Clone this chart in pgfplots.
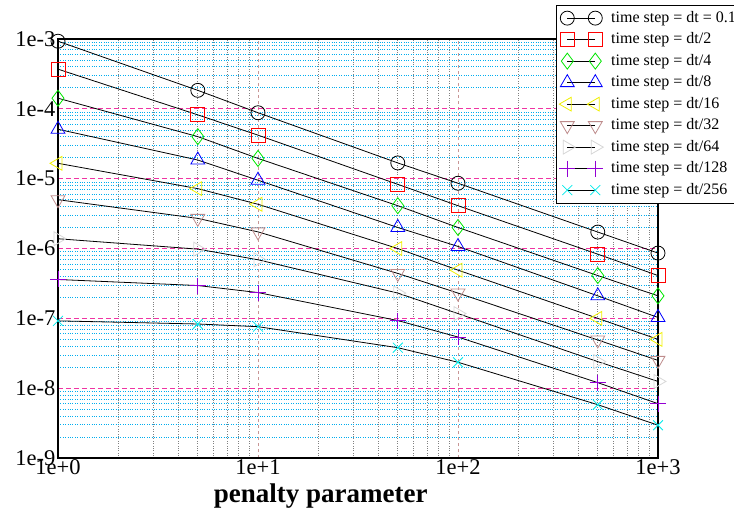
\documentclass[border=0pt]{standalone}
\usepackage{fontspec}
\setmainfont{Liberation Serif}
\usepackage{pgfplots}
\pgfplotsset{compat=1.18}

\definecolor{gridbrown}{RGB}{200,150,150}
\definecolor{mkgreen}{RGB}{0,230,0}
\definecolor{mkyellow}{RGB}{240,240,0}
\definecolor{mkbrown}{RGB}{190,140,140}
\definecolor{mkgray}{RGB}{215,215,215}
\definecolor{mkpurple}{RGB}{148,0,211}
\definecolor{mkcyan}{RGB}{0,235,235}

\pgfplotsset{
  % black connecting line, coloured marker; second argument rotates the marker
  errline/.style 2 args={black, line width=0.8pt, mark size=7pt,
    mark options={solid, line width=0.8pt, draw=#1, rotate=#2}},
}

\begin{document}
\begin{tikzpicture}
\begin{loglogaxis}[
  scale only axis,
  width=600pt, height=419pt,
  xmin=1, xmax=1000, ymin=1e-9, ymax=1e-3,
  clip=false,
  xtick={1,10,100,1000},
  xticklabels={1e+0,1e+1,1e+2,1e+3},
  ytick={1e-9,1e-8,1e-7,1e-6,1e-5,1e-4,1e-3},
  yticklabels={1e-9,1e-8,1e-7,1e-6,1e-5,1e-4,1e-3},
  minor xtick={2,3,4,5,6,7,8,9,20,30,40,50,60,70,80,90,200,300,400,500,600,700,800,900},
  minor ytick={2e-9,3e-9,4e-9,5e-9,6e-9,7e-9,8e-9,9e-9,
               2e-8,3e-8,4e-8,5e-8,6e-8,7e-8,8e-8,9e-8,
               2e-7,3e-7,4e-7,5e-7,6e-7,7e-7,8e-7,9e-7,
               2e-6,3e-6,4e-6,5e-6,6e-6,7e-6,8e-6,9e-6,
               2e-5,3e-5,4e-5,5e-5,6e-5,7e-5,8e-5,9e-5,
               2e-4,3e-4,4e-4,5e-4,6e-4,7e-4,8e-4,9e-4},
  major tick length=0pt, minor tick length=0pt,
  grid=both,
  major x grid style={gridbrown, dashed, line width=0.8pt},
  major y grid style={magenta!80, dash pattern=on 5pt off 3pt, line width=1pt},
  minor x grid style={gray, dotted, line width=0.6pt},
  minor y grid style={cyan, dotted, line width=0.7pt},
  axis line style={black, line width=1.4pt},
  tick label style={font=\fontsize{22.5}{22.5}\selectfont},
  xticklabel style={yshift=2pt},
  yticklabel style={xshift=1pt},
  xlabel={penalty parameter},
  xlabel style={font=\fontsize{27}{27}\selectfont\bfseries,
    at={(axis description cs:0.438,0)}, anchor=north, inner sep=0pt, yshift=-26pt},
  legend cell align=left,
  legend style={at={(rel axis cs:0.83,1.081)}, anchor=north west,
    font=\fontsize{16}{18}\selectfont, draw=black, line width=0.6pt,
    inner xsep=3pt, inner ysep=2pt, row sep=0pt,
    nodes={inner sep=1.5pt, text height=13.5pt, text depth=5pt}},
  legend image code/.code={%
    \draw[#1] plot coordinates {(2pt,0pt) (30pt,0pt)};
    \path (-3pt,0pt) (44pt,0pt);},
]
% time step = dt = 0.1
\addplot[errline={black}{0}, mark=o] coordinates {
  (1,9.3e-4) (5,1.84e-4) (10,8.8e-5) (50,1.68e-5) (100,8.6e-6) (500,1.72e-6) (1000,8.6e-7)};
\addlegendentry{time step = dt = 0.1}
% dt/2
\addplot[errline={red}{0}, mark=square] coordinates {
  (1,3.7e-4) (5,8.2e-5) (10,4.2e-5) (50,8.3e-6) (100,4.1e-6) (500,8.3e-7) (1000,4.1e-7)};
\addlegendentry{time step = dt/2}
% dt/4
\addplot[errline={mkgreen}{0}, mark=diamond, mark size=8pt] coordinates {
  (1,1.42e-4) (5,4.0e-5) (10,1.95e-5) (50,4.1e-6) (100,2.0e-6) (500,4.1e-7) (1000,2.1e-7)};
\addlegendentry{time step = dt/4}
% dt/8
\addplot[errline={blue}{0}, mark=triangle, mark size=8pt] coordinates {
  (1,5.1e-5) (5,1.85e-5) (10,9.5e-6) (50,2.0e-6) (100,1.07e-6) (500,2.1e-7) (1000,1.03e-7)};
\addlegendentry{time step = dt/8}
% dt/16
\addplot[errline={mkyellow}{90}, mark=triangle, mark size=8pt] coordinates {
  (1,1.66e-5) (5,7.2e-6) (10,4.3e-6) (50,1.0e-6) (100,4.9e-7) (500,1.0e-7) (1000,5.0e-8)};
\addlegendentry{time step = dt/16}
% dt/32
\addplot[errline={mkbrown}{180}, mark=triangle, mark size=8pt] coordinates {
  (1,5.0e-6) (5,2.7e-6) (10,1.73e-6) (50,4.4e-7) (100,2.3e-7) (500,4.9e-8) (1000,2.5e-8)};
\addlegendentry{time step = dt/32}
% dt/64
\addplot[errline={mkgray}{270}, mark=triangle, mark size=8pt] coordinates {
  (1,1.38e-6) (5,9.8e-7) (10,6.9e-7) (50,2.3e-7) (100,1.17e-7) (500,2.4e-8) (1000,1.25e-8)};
\addlegendentry{time step = dt/64}
% dt/128
\addplot[errline={mkpurple}{0}, mark=+, mark size=8pt] coordinates {
  (1,3.6e-7) (5,2.95e-7) (10,2.34e-7) (50,9.3e-8) (100,5.4e-8) (500,1.2e-8) (1000,6.0e-9)};
\addlegendentry{time step = dt/128}
% dt/256
\addplot[errline={mkcyan}{0}, mark=x, mark size=7pt] coordinates {
  (1,9.2e-8) (5,8.3e-8) (10,7.6e-8) (50,3.8e-8) (100,2.35e-8) (500,5.8e-9) (1000,2.95e-9)};
\addlegendentry{time step = dt/256}
\end{loglogaxis}
\pgfresetboundingbox
\useasboundingbox (-58pt,-54pt) rectangle (676pt,458pt);
\end{tikzpicture}
\end{document}
